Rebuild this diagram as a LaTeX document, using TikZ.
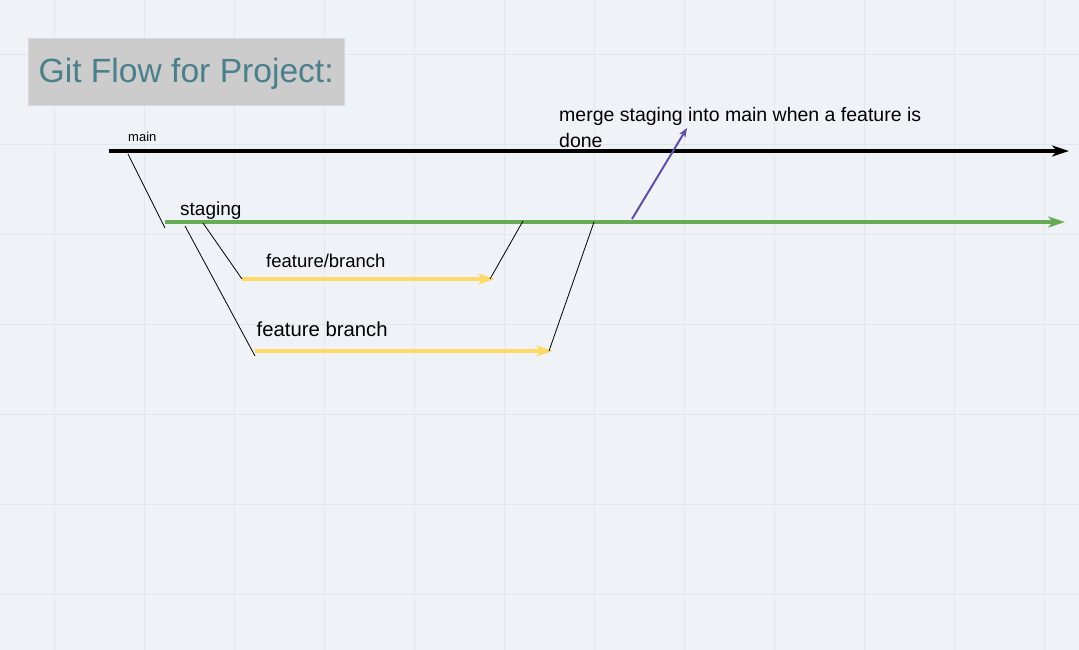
\documentclass[tikz,border=0pt]{standalone}
\usepackage{fontspec}
\setmainfont{Liberation Sans}
\usetikzlibrary{arrows.meta}
\definecolor{bg}{HTML}{EFF3F7}
\definecolor{gridc}{HTML}{E2E7EC}
\definecolor{titlefill}{HTML}{CCCCCC}
\definecolor{titleedge}{HTML}{D9D9D9}
\definecolor{titletext}{HTML}{4A7F8B}
\definecolor{stgreen}{HTML}{67AB57}
\definecolor{featyellow}{HTML}{FFD966}
\definecolor{mergepurple}{HTML}{6150A6}
\tikzset{
  branchline/.style={line width=3.2pt},
  bigtip/.style={-{Stealth[length=17pt,width=11pt,inset=5pt]}},
  linkline/.style={line width=0.8pt, black},
  lbl/.style={inner sep=0pt, anchor=base west, text=black},
}
\begin{document}
\begin{tikzpicture}[x=1pt,y=-1pt]
\useasboundingbox (0,0) rectangle (1079,650);
\fill[bg] (0,0) rectangle (1079,650);
\foreach \g in {54,144,...,1044} \draw[gridc, line width=0.8pt] (\g,0) -- (\g,650);
\foreach \g in {54,144,...,594} \draw[gridc, line width=0.8pt] (0,\g) -- (1079,\g);

% title
\node[draw=titleedge, fill=titlefill, line width=0.8pt, minimum width=316pt, minimum height=67pt, anchor=north west, inner sep=0pt] (titlebox) at (28,38) {};
\node[lbl, text=titletext, font=\fontsize{33.6}{40}\selectfont] (title) at (38.5,83) {Git Flow for Project:};

% coordinates
\coordinate (mainS) at (109,151);
\coordinate (mainE) at (1069,151);
\coordinate (stgS) at (165,222);
\coordinate (stgE) at (1065,222);
\coordinate (f1S) at (242,279);
\coordinate (f1E) at (495,279);
\coordinate (f2S) at (255,351);
\coordinate (f2E) at (553,351);

% branch lines
\draw[branchline, black, bigtip] (mainS) -- (mainE);
\draw[branchline, stgreen, bigtip] (stgS) -- (stgE);
\draw[branchline, featyellow, bigtip] (f1S) -- (f1E);
\draw[branchline, featyellow, bigtip] (f2S) -- (f2E);

% links
\coordinate (m1) at (128,154);
\coordinate (s1) at (165,228);
\draw[linkline] (m1) -- (s1);
\coordinate (s2) at (203,223);
\draw[linkline] (s2) -- (f1S);
\coordinate (s3) at (185,226);
\coordinate (f2a) at (255,356);
\draw[linkline] (s3) -- (f2a);
\coordinate (f1e) at (490,279);
\coordinate (s4) at (523,221);
\draw[linkline] (f1e) -- (s4);
\coordinate (f2e) at (549,351);
\coordinate (s5) at (594,222);
\draw[linkline] (f2e) -- (s5);

% merge arrow
\coordinate (pS) at (632,219);
\coordinate (pE) at (687,128);
\draw[mergepurple, line width=2pt, -{Stealth[length=9pt,width=7pt,inset=2.5pt]}] (pS) -- (pE);

% labels
\node[lbl, font=\fontsize{13}{15}\selectfont] (mainlbl) at (128,142) {main};
\node[lbl, font=\fontsize{19}{22}\selectfont] (stglbl) at (180,215) {staging};
\node[lbl, font=\fontsize{18.5}{22}\selectfont] (f1lbl) at (266,267) {feature/branch};
\node[lbl, font=\fontsize{20.3}{24}\selectfont] (f2lbl) at (256.5,336) {feature branch};
\node[lbl, font=\fontsize{19.5}{26.5}\selectfont, align=left] (mergelbl) at (559,148) {merge staging into main when a feature is\\done};
\end{tikzpicture}
\end{document}
